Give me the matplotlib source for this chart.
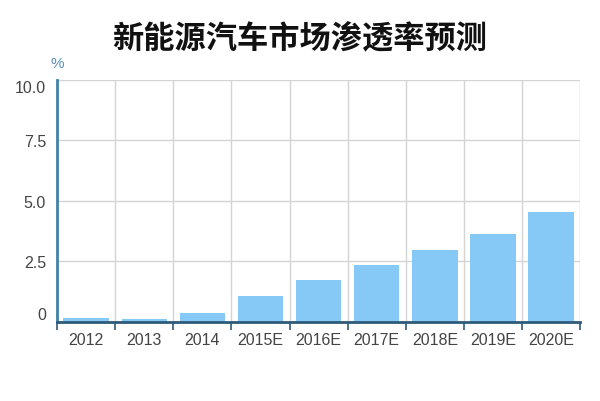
import matplotlib
matplotlib.use("Agg")
import matplotlib.pyplot as plt
import numpy as np

# data
years = ["2012", "2013", "2014", "2015E", "2016E", "2017E", "2018E", "2019E", "2020E"]
penetration = [0.14, 0.12, 0.35, 1.05, 1.74, 2.34, 2.95, 3.64, 4.55]
yticks = [0, 2.5, 5.0, 7.5, 10.0]
ytick_labels = ["0", "2.5", "5.0", "7.5", "10.0"]

plt.rcParams['font.family'] = ['Noto Sans CJK SC', 'DejaVu Sans']
label_font = dict(family="Liberation Sans", size=11.5, color="#444444")

fig = plt.figure(figsize=(6, 4.02), dpi=100)
ax = fig.add_axes([0.095, 0.197, 0.872, 0.602])

x = np.arange(len(years))
ax.bar(x, penetration, width=0.78, color="#87c9f6", zorder=2)

ax.set_xlim(-0.5, len(years) - 0.5)
ax.set_ylim(0, 10)

# grid lines at category boundaries and at the y ticks
for b in np.arange(0.5, len(years), 1):
    ax.axvline(b, color="#d4d4d4", lw=1, zorder=1)
for v in yticks[1:]:
    ax.axhline(v, color="#d4d4d4", lw=1, zorder=1)

ax.set_yticks(yticks)
ax.set_yticklabels(ytick_labels, **label_font)
ax.get_yticklabels()[0].set_va("bottom")
ax.get_yticklabels()[-1].set_va("top")
ax.tick_params(axis="y", length=0, pad=8)

ax.set_xticks(x)
ax.set_xticklabels(years, **label_font)
ax.tick_params(axis="x", length=0, pad=7)
ax.set_xticks(np.arange(-0.5, len(years), 1), minor=True)
ax.tick_params(axis="x", which="minor", length=6, width=1.2, color="#2e5a7a", direction="out")

for s in ["top", "right"]:
    ax.spines[s].set_visible(False)
ax.spines["left"].set_color("#3d82aa")
ax.spines["left"].set_linewidth(2)
ax.spines["bottom"].set_color("#2e5a7a")
ax.spines["bottom"].set_linewidth(2)

fig.text(0.095, 0.841, "%", fontsize=11, color="#5a8fb8", ha="center", va="center",
         family="Liberation Sans")
fig.text(0.5, 0.902, "新能源汽车市场渗透率预测", fontsize=22.5, fontweight="bold",
         ha="center", va="center", color="#111111")

fig.savefig("out.png", dpi=100, facecolor="white")
